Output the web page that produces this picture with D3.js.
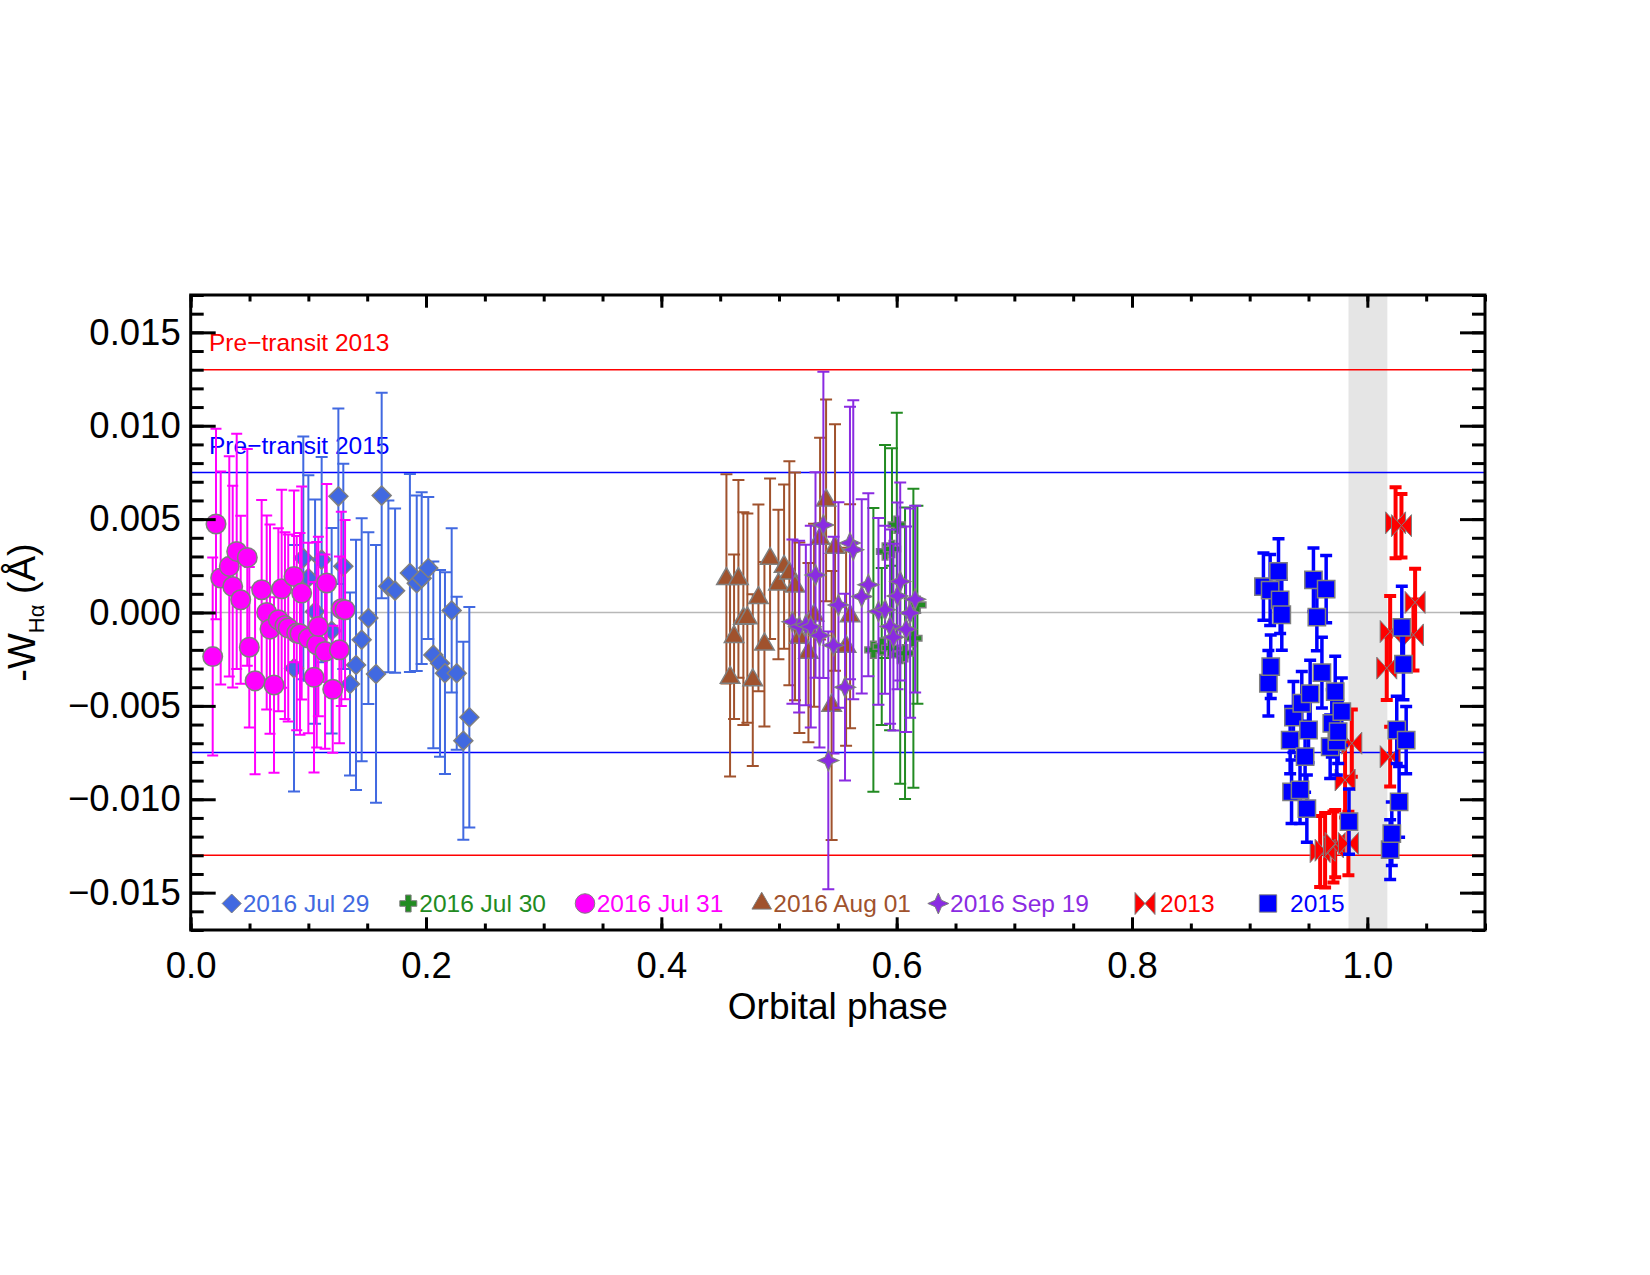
<!DOCTYPE html>
<html>
<head>
<meta charset="utf-8">
<script src="https://cdn.jsdelivr.net/npm/d3@7"></script>
<style>
  body { margin: 0; background: #fff; }
  svg { display: block; font-family: "Liberation Sans", Arial, Helvetica, sans-serif; }
</style>
</head>
<body>
<svg id="chart" width="1650" height="1275"></svg>
<script>
// values, in units of 1e-3 Angstrom
const MILLI = 1e-3

// 2016 Jul 29 (diamonds)
const jul29Phase = [0.0878, 0.0957, 0.1000, 0.1057, 0.1113, 0.1198, 0.1255, 0.1297, 0.1354, 0.1405, 0.1453, 0.1510, 0.1575, 0.1623,
    0.1680, 0.1737, 0.1863, 0.1921, 0.1963, 0.2019, 0.2062, 0.2119, 0.2161, 0.2218, 0.2261, 0.2317, 0.2368]
const jul29Val = [-2.98, 2.92, 1.85, 0.05, 2.83, -0.98, 6.22, 2.47, -3.83, -2.81, -1.46, -0.30, -3.29, 6.26,
    1.40, 1.17, 2.11, 1.57, 1.84, 2.38, -2.27, -2.72, -3.25, 0.11, -3.25, -6.87, -5.61]
const jul29Err = [6.6, 6.5, 5.5, 6.0, 5.5, 5.5, 4.7, 5.5, 4.9, 6.7, 6.5, 4.6, 6.9, 5.5,
    4.6, 4.4, 5.3, 4.7, 4.6, 3.8, 5.0, 5.0, 5.4, 4.4, 4.1, 5.3, 5.9]

// 2016 Jul 30 (plus)
const jul30Phase = [0.5802, 0.5873, 0.5901, 0.5944, 0.5960, 0.6001, 0.6030, 0.6071, 0.6142, 0.6176]
const jul30Val = [-2.00, -1.82, 3.27, -1.90, 3.40, 4.70, -2.27, -2.18, -1.38, 0.41]
const jul30Err = [7.6, 4.2, 5.7, 4.4, 5.4, 6.0, 6.9, 7.8, 8.0, 5.3]

// 2016 Jul 31 (circles)
const jul31Phase = [0.0187, 0.0215, 0.0255, 0.0328, 0.0357, 0.0391, 0.0425, 0.0481, 0.0498, 0.0547, 0.0603, 0.0646,
    0.0674, 0.0708, 0.0745, 0.0773, 0.0801, 0.0829, 0.0878, 0.0901, 0.0929, 0.0943, 0.1000, 0.1048, 0.1071, 0.1085,
    0.1142, 0.1156, 0.1207, 0.1264, 0.1280, 0.1312]
const jul31Val = [-2.36, 4.74, 1.85, 2.47, 1.39, 3.27, 0.68, 2.95, -1.86, -3.66, 1.22, 0.00,
    -0.89, -3.88, -0.39, 1.27, -0.70, -0.83, 1.93, -1.10, -1.14, 1.04, -1.37, -3.47, -1.73, -0.75,
    -2.09, 1.58, -4.11, -2.00, 0.20, 0.15]
const jul31Err = [5.3, 5.1, 5.7, 5.9, 5.4, 6.3, 4.5, 5.8, 4.3, 5.0, 4.8, 5.2,
    5.6, 4.7, 4.9, 5.3, 5.0, 5.0, 4.6, 5.2, 5.4, 5.7, 5.1, 5.1, 5.5, 4.8,
    5.2, 5.3, 3.4, 5.0, 5.2, 4.8]

// 2016 Aug 01 (triangles)
const aug01Phase = [0.4553, 0.4584, 0.4618, 0.4655, 0.4697, 0.4731, 0.4777, 0.4825, 0.4876, 0.4924, 0.4995, 0.5043,
    0.5088, 0.5136, 0.5173, 0.5250, 0.5298, 0.5349, 0.5400, 0.5447, 0.5476, 0.5570, 0.5604]
const aug01Val = [1.80, -3.48, -1.30, 1.80, -0.33, -0.30, -3.62, 0.78, -1.70, 2.88, 1.50, 2.46,
    2.10, 1.40, -1.35, -2.15, -0.15, 3.96, 6.00, -4.98, 3.48, -1.83, -0.20]
const aug01Err = [5.6, 5.3, 4.4, 5.3, 5.7, 5.6, 4.6, 5.0, 4.4, 4.3, 4.0, 4.4,
    6.0, 6.1, 5.1, 4.8, 4.9, 5.4, 5.4, 7.2, 6.6, 5.3, 6.0]

// 2016 Sep 19 (four-point stars)
const sep19Phase = [0.5114, 0.5171, 0.5228, 0.5270, 0.5310, 0.5344, 0.5377, 0.5419, 0.5463, 0.5505, 0.5561, 0.5603,
    0.5631, 0.5703, 0.5759, 0.5845, 0.5901, 0.5944, 0.5972, 0.6007, 0.6030, 0.6080, 0.6114, 0.6157]
const sep19Val = [-0.49, -0.76, -0.67, -0.76, 2.01, -1.23, 4.69, -7.92, -1.75, 0.40, -4.00, 3.72,
    3.36, 0.86, 1.49, 0.06, 0.15, -0.75, -1.32, 0.89, 1.66, -0.90, -0.03, 0.71]
const sep19Err = [4.4, 4.6, 4.3, 5.4, 5.5, 6.0, 8.2, 6.9, 5.8, 5.5, 5.0, 7.3,
    8.0, 5.2, 4.9, 5.0, 4.5, 5.2, 5.0, 5.0, 5.3, 5.5, 5.6, 5.0]

// 2013 (bowties)
const y2013Phase = [0.9599, 0.9641, 0.9712, 0.9727, 0.9811, 0.9839, 0.9868, 1.0165, 1.0194, 1.0194, 1.0240, 1.0290, 1.0392, 1.0406]
const y2013Val = [-12.80, -12.73, -12.55, -12.37, -8.97, -12.37, -7.00, -2.98, -1.02, -7.72, 4.80, 4.65, -1.20, 0.54]
const y2013Err = [1.9, 2.0, 1.9, 1.8, 2.0, 1.7, 1.8, 1.7, 1.9, 1.6, 1.9, 1.7, 1.9, 1.8]

// 2015 (squares)
const y2015Phase = [0.9117, 0.9159, 0.9174, 0.9179, 0.9245, 0.9259, 0.9273, 0.9344, 0.9356, 0.9372, 0.9428, 0.9443,
    0.9471, 0.9486, 0.9500, 0.9514, 0.9542, 0.9571, 0.9614, 0.9650, 0.9684, 0.9698, 0.9727, 0.9741, 0.9752, 0.9783,
    0.9844, 1.0194, 1.0208, 1.0250, 1.0270, 1.0293, 1.0307, 1.0330]
const y2015Val = [1.39, -3.79, 1.20, -2.90, 2.20, 0.68, -0.12, -6.83, -9.60, -5.60, -9.50, -4.86,
    -7.72, -10.50, -6.29, -4.35, 1.75, -0.25, -3.22, 1.25, -7.19, -5.94, -4.24, -6.90, -6.38, -5.31,
    -11.20, -12.70, -11.84, -6.29, -10.14, -0.80, -2.77, -6.83]
const y2015Err = [1.8, 1.75, 1.9, 1.7, 1.75, 1.8, 1.9, 1.8, 1.7, 1.9, 1.8, 1.7,
    1.9, 1.8, 1.75, 1.8, 1.7, 1.8, 1.9, 1.8, 1.7, 1.8, 1.9, 1.8, 1.7, 1.8,
    1.75, 1.6, 1.7, 1.8, 1.9, 2.2, 1.9, 1.8]

// reference levels
const pre2013 = 13.0
const pre2015 = 7.5
const transitBand = [0.984, 1.017]

const xTicks = [0.0, 0.2, 0.4, 0.6, 0.8, 1.0]
const yTicks = [-0.015, -0.010, -0.005, 0.000, 0.005, 0.010, 0.015]

const width = 1650
const height = 1275
const margin = { left: 190.7, right: 165, top: 295, bottom: 345 }

const svg = d3.select('#chart')

const x = d3.scaleLinear().domain([0, 1.1]).range([margin.left, width - margin.right])
const y = d3.scaleLinear().domain([-0.017, 0.017]).range([height - margin.bottom, margin.top])

const grey = '#7f7f7f'

// marker shapes, centred on 0,0
const shapes = {
    diamond: 'M0,-9.5L9.5,0L0,9.5L-9.5,0Z',
    plus: 'M-2.8,-8.5H2.8V-2.8H8.5V2.8H2.8V8.5H-2.8V2.8H-8.5V-2.8H-2.8Z',
    circle: d3.symbol().type(d3.symbolCircle).size(300)(),
    triangle: d3.symbol().type(d3.symbolTriangle).size(165)(),
    star: 'M0,-10.5L3.2,-3.2L10.5,0L3.2,3.2L0,10.5L-3.2,3.2L-10.5,0L-3.2,-3.2Z',
    bowtie: 'M0,0L-10,-11L-10,11Z M0,0L10,-11L10,11Z',
    square: d3.symbol().type(d3.symbolSquare).size(300)()
}

const series = [
    { label: '2016 Jul 29', color: '#4169E1', shape: 'diamond', phase: jul29Phase, val: jul29Val, err: jul29Err, bw: 2, cap: 6, sw: 1.5 },
    { label: '2016 Jul 30', color: '#228B22', shape: 'plus', phase: jul30Phase, val: jul30Val, err: jul30Err, bw: 2, cap: 6, sw: 1.5 },
    { label: '2016 Jul 31', color: '#FF00FF', shape: 'circle', phase: jul31Phase, val: jul31Val, err: jul31Err, bw: 2, cap: 5.5, sw: 1.5 },
    { label: '2016 Aug 01', color: '#A0522D', shape: 'triangle', phase: aug01Phase, val: aug01Val, err: aug01Err, bw: 2, cap: 6, sw: 1.5 },
    { label: '2016 Sep 19', color: '#8A2BE2', shape: 'star', phase: sep19Phase, val: sep19Val, err: sep19Err, bw: 2, cap: 6, sw: 1.2 },
    { label: '2013', color: '#FF0000', shape: 'bowtie', phase: y2013Phase, val: y2013Val, err: y2013Err, bw: 4, cap: 6, sw: 1 },
    { label: '2015', color: '#0000FF', shape: 'square', phase: y2015Phase, val: y2015Val, err: y2015Err, bw: 3.5, cap: 6, sw: 1.5 }
]
series.forEach(s => {
    s.points = s.phase.map((p, i) => ({ p: p, v: s.val[i] * MILLI, e: s.err[i] * MILLI }))
})

// legend layout (pixel x of marker and text)
const legendMarkerX = [231.7, 408.3, 585, 761.7, 938.3, 1145, 1268]
const legendTextX = [242.7, 419.3, 596.7, 773.3, 950, 1160, 1290]
const legendY = -0.0155

svg.append('rect').attr('width', width).attr('height', height).attr('fill', '#fff')

// transit band
svg.append('rect')
    .attr('x', x(transitBand[0]))
    .attr('y', margin.top)
    .attr('width', x(transitBand[1]) - x(transitBand[0]))
    .attr('height', y.range()[0] - margin.top)
    .attr('fill', '#e5e5e5')

// horizontal reference lines
const hlines = [
    { v: 0, color: '#b8b8b8' },
    { v: pre2013 * MILLI, color: '#ff0000' },
    { v: -pre2013 * MILLI, color: '#ff0000' },
    { v: pre2015 * MILLI, color: '#0000ff' },
    { v: -pre2015 * MILLI, color: '#0000ff' }
]
svg.append('g').selectAll('line')
    .data(hlines)
    .enter().append('line')
    .attr('x1', x(0)).attr('x2', x(1.1))
    .attr('y1', d => y(d.v)).attr('y2', d => y(d.v))
    .attr('stroke', d => d.color)
    .attr('stroke-width', 1.6)

svg.append('text')
    .attr('x', 209).attr('y', y(pre2013 * MILLI) - 18.5)
    .attr('font-size', 24.5).attr('fill', '#ff0000')
    .text('Pre\u2212transit 2013')
svg.append('text')
    .attr('x', 209).attr('y', y(pre2015 * MILLI) - 18.5)
    .attr('font-size', 24.5).attr('fill', '#0000ff')
    .text('Pre\u2212transit 2015')

// data
series.forEach(s => {
    const g = svg.append('g')
    const bars = g.append('g')
        .attr('stroke', s.color)
        .attr('stroke-width', s.bw)
        .attr('fill', 'none')
    bars.selectAll('path')
        .data(s.points)
        .enter().append('path')
        .attr('d', d => {
            const px = x(d.p), y0 = y(d.v - d.e), y1 = y(d.v + d.e)
            return `M${px},${y0}V${y1}M${px - s.cap},${y1}H${px + s.cap}M${px - s.cap},${y0}H${px + s.cap}`
        })
    g.append('g').selectAll('path')
        .data(s.points)
        .enter().append('path')
        .attr('d', shapes[s.shape])
        .attr('transform', d => `translate(${x(d.p)},${y(d.v)})`)
        .attr('fill', s.color)
        .attr('stroke', grey)
        .attr('stroke-width', s.sw)
})

// legend
const legend = svg.append('g')
series.forEach((s, i) => {
    legend.append('path')
        .attr('d', shapes[s.shape])
        .attr('transform', `translate(${legendMarkerX[i]},${y(legendY) + 1.5})`)
        .attr('fill', s.color)
        .attr('stroke', grey)
        .attr('stroke-width', 1)
    legend.append('text')
        .attr('x', legendTextX[i])
        .attr('y', y(legendY) + 10.5)
        .attr('font-size', 24.5)
        .attr('fill', s.color)
        .text(s.label)
})

// axes
const fmtY = d3.format('.3f')
const fmtX = d3.format('.1f')
const yMinor = d3.range(-17, 18).map(v => v * MILLI)
const xMinor = d3.range(0, 23).map(v => v * 0.05)
const plotW = x.range()[1] - x.range()[0]
const plotH = y.range()[0] - y.range()[1]

function styleAxis(g) {
    g.select('.domain').remove()
    g.selectAll('line').attr('stroke', '#000').attr('stroke-width', 3)
    g.selectAll('text').attr('fill', '#000').attr('font-size', 36.5)
}

svg.append('g').attr('transform', `translate(${x(0)},0)`)
    .call(d3.axisLeft(y).tickValues(yMinor).tickSizeInner(-13).tickSizeOuter(0).tickFormat(''))
    .call(styleAxis)
svg.append('g').attr('transform', `translate(${x(0)},0)`)
    .call(d3.axisLeft(y).tickValues(yTicks).tickSizeInner(-25).tickSizeOuter(0).tickPadding(10).tickFormat(fmtY))
    .call(styleAxis)
svg.append('g').attr('transform', `translate(${x(1.1)},0)`)
    .call(d3.axisRight(y).tickValues(yMinor).tickSizeInner(-13).tickSizeOuter(0).tickFormat(''))
    .call(styleAxis)
svg.append('g').attr('transform', `translate(${x(1.1)},0)`)
    .call(d3.axisRight(y).tickValues(yTicks).tickSizeInner(-25).tickSizeOuter(0).tickFormat(''))
    .call(styleAxis)

svg.append('g').attr('transform', `translate(0,${y(-0.017)})`)
    .call(d3.axisBottom(x).tickValues(xMinor).tickSizeInner(-6.5).tickSizeOuter(0).tickFormat(''))
    .call(styleAxis)
svg.append('g').attr('transform', `translate(0,${y(-0.017)})`)
    .call(d3.axisBottom(x).tickValues(xTicks).tickSizeInner(-12.7).tickSizeOuter(0).tickPadding(22).tickFormat(fmtX))
    .call(styleAxis)
svg.append('g').attr('transform', `translate(0,${y(0.017)})`)
    .call(d3.axisTop(x).tickValues(xMinor).tickSizeInner(-6.5).tickSizeOuter(0).tickFormat(''))
    .call(styleAxis)
svg.append('g').attr('transform', `translate(0,${y(0.017)})`)
    .call(d3.axisTop(x).tickValues(xTicks).tickSizeInner(-12.7).tickSizeOuter(0).tickFormat(''))
    .call(styleAxis)

// frame
svg.append('rect')
    .attr('x', x(0)).attr('y', y(0.017))
    .attr('width', plotW).attr('height', plotH)
    .attr('fill', 'none').attr('stroke', '#000').attr('stroke-width', 3)

// axis titles
svg.append('text')
    .attr('x', (x.range()[0] + x.range()[1]) / 2)
    .attr('y', 1019)
    .attr('text-anchor', 'middle')
    .attr('font-size', 37)
    .text('Orbital phase')

const yTitle = svg.append('text')
    .attr('transform', `translate(35,${(y.range()[0] + y.range()[1]) / 2}) rotate(-90)`)
    .attr('text-anchor', 'middle')
    .attr('font-size', 38)
yTitle.append('tspan').text('-W')
yTitle.append('tspan').attr('font-size', 22).attr('dy', 9).text('H\u03b1')
yTitle.append('tspan').attr('dy', -9).text(' (\u00c5)')
</script>
</body>
</html>
